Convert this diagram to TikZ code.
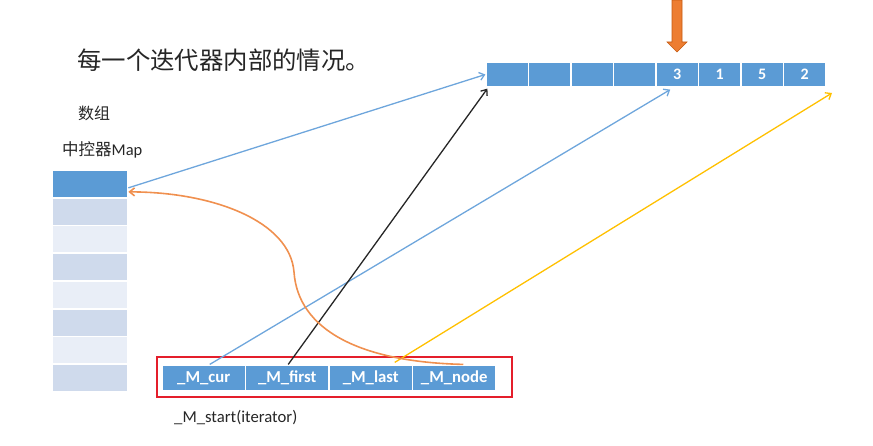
\documentclass[tikz,border=0pt]{standalone}
\usepackage{fontspec}
\setmainfont{Carlito}
\newfontfamily\cjk{Noto Sans CJK SC}
\usetikzlibrary{arrows.meta}
\definecolor{cellblue}{HTML}{5B9BD5}
\definecolor{mapdark}{HTML}{CFDAEC}
\definecolor{maplight}{HTML}{E9EEF7}
\definecolor{arrblue}{HTML}{6EA6DC}
\definecolor{arryellow}{HTML}{FFC000}
\definecolor{arrorange}{HTML}{F0904F}
\definecolor{bigorange}{HTML}{ED7D31}
\definecolor{bigorangedark}{HTML}{C55A11}
\definecolor{framered}{HTML}{E41E2B}
\definecolor{titlegray}{HTML}{262626}
\begin{document}
\begin{tikzpicture}[x=1pt,y=-1pt,
  topcell/.style={draw=white, line width=1.2pt, fill=cellblue, minimum width=42.5pt, minimum height=25pt, inner sep=0pt, text=white, font=\bfseries\fontsize{16}{16}\selectfont},
  mapcell/.style={draw=white, line width=1.6pt, minimum width=75pt, minimum height=27.75pt, inner sep=0pt},
  itcell/.style={draw=white, line width=1.2pt, fill=cellblue, minimum width=83.5pt, minimum height=26pt, inner sep=0pt, text=white, font=\bfseries\fontsize{16.7}{16.7}\selectfont},
  conn/.style={line width=1.3pt, -{Straight Barb[length=5pt,width=8pt]}},
  lbl/.style={anchor=west, inner sep=0pt, text=titlegray}
]
\useasboundingbox (0,0) rectangle (873,446);

% title and labels
\node[lbl, font=\cjk\fontsize{24.4}{24.4}\selectfont] (title) at (77,60) {每一个迭代器内部的情况。};
\node[lbl, font=\cjk\fontsize{16}{16}\selectfont] (arrlbl) at (78,113) {数组};
\node[lbl, font=\fontsize{16.5}{16.5}\selectfont] (maplbl) at (62,150) {{\cjk 中控器}Map};
\node[lbl, font=\fontsize{16.7}{16.7}\selectfont] (startlbl) at (174,418) {\_M\_start(iterator)};

% top buffer
\foreach \i/\t in {1/,2/,3/,4/,5/3,6/1,7/5,8/2}{
  \node[topcell] (t\i) at ({486+42.5*(\i-0.5)},74.5) {\t};
}

% map column
\node[mapcell, fill=cellblue] (m1) at (90,{170+27.75*0.5}) {};
\foreach \i in {2,4,6,8}{
  \node[mapcell, fill=mapdark] (m\i) at (90,{170+27.75*(\i-0.5)}) {};
}
\foreach \i in {3,5,7}{
  \node[mapcell, fill=maplight] (m\i) at (90,{170+27.75*(\i-0.5)}) {};
}

% iterator
\node[draw=framered, line width=2.4pt, minimum width=355pt, minimum height=40pt, inner sep=0pt] (frame) at (334.5,377) {};
\node[itcell] (b1) at ({162+83.5*0.5},378) {\_M\_cur};
\node[itcell] (b2) at ({162+83.5*1.5},378) {\_M\_first};
\node[itcell] (b3) at ({162+83.5*2.5},378) {\_M\_last};
\node[itcell] (b4) at ({162+83.5*3.5},378) {\_M\_node};

% big orange arrow
\draw[fill=bigorange, draw=bigorangedark, line width=0.6pt]
  (672,0) -- (682,0) -- (682,42) -- (687,42) -- (677,52) -- (667,42) -- (672,42) -- cycle;

% connectors
\coordinate (yend) at (832,93);
\draw[conn, arrblue] ([yshift=-4pt]m1.east) -- (t1.west);
\draw[conn, arrblue] ([xshift=6pt]b1.north) -- ([xshift=-7pt,yshift=-2pt]t5.south);
\draw[conn, black!85] ([xshift=1pt]b2.north) -- ([xshift=2pt,yshift=-1pt]t1.south west);
\draw[conn, arryellow] ([xshift=24pt,yshift=2pt]b3.north) -- (yend);
\draw[conn, arrorange, line width=1.6pt] ([xshift=9pt]b4.north) .. controls (360,362) and (298,330) .. (294,272)
  .. controls (290,222) and (215,192) .. ([yshift=-8pt]m1.east);
\end{tikzpicture}
\end{document}
